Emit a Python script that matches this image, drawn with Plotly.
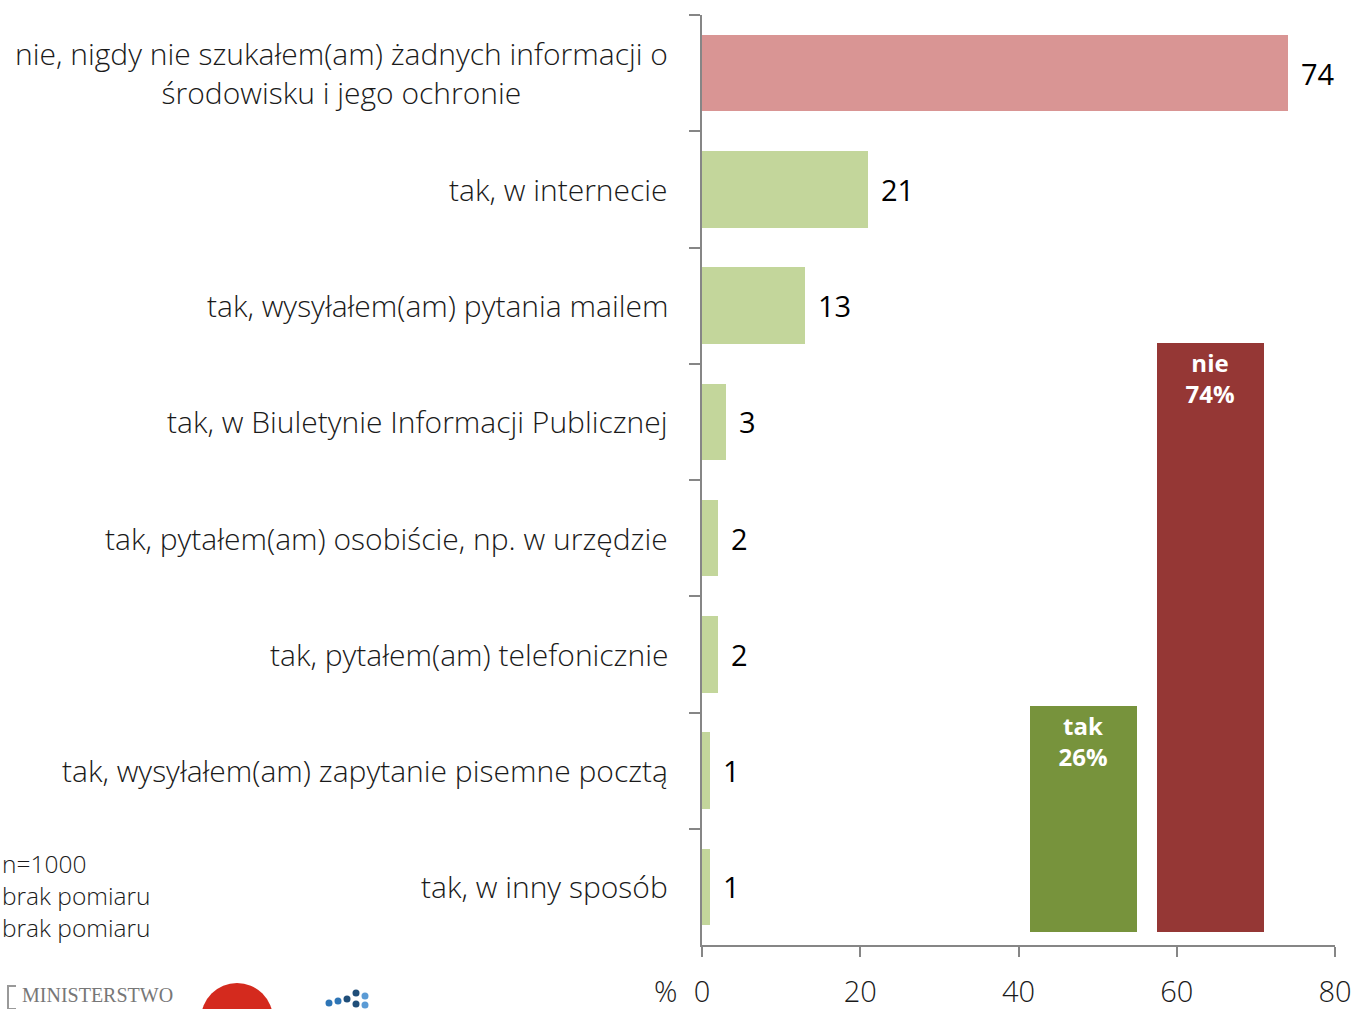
import plotly.graph_objects as go

categories = [
    "nie, nigdy nie szukałem(am) żadnych informacji o<br>środowisku i jego ochronie",
    "tak, w internecie",
    "tak, wysyłałem(am) pytania mailem",
    "tak, w Biuletynie Informacji Publicznej",
    "tak, pytałem(am) osobiście, np. w urzędzie",
    "tak, pytałem(am) telefonicznie",
    "tak, wysyłałem(am) zapytanie pisemne pocztą",
    "tak, w inny sposób",
]
values = [74, 21, 13, 3, 2, 2, 1, 1]
bar_colors = ["#D99594"] + ["#C3D69B"] * 7

summary_labels = ["tak", "nie"]
summary_values = [26, 74]
summary_colors = ["#77933C", "#953735"]

x_ticks = [0, 20, 40, 60, 80]
notes = ["n=1000", "brak pomiaru", "brak pomiaru"]

FONT = "Open Sans"
W, H = 1353, 1009
L, R, T, B = 702, 18, 15, 64
PW, PH = W - L - R, H - T - B
Y2MIN, Y2MAX = -3.9, 74  # inset axis range (axis does not start at 0)


def px(x):
    return (x - L) / PW


def py(y):
    return (H - B - y) / PH


fig = go.Figure()
fig.add_trace(go.Bar(
    y=categories, x=values, orientation="h",
    marker=dict(color=bar_colors, line=dict(width=0)),
    width=0.66, hoverinfo="skip", cliponaxis=False,
))
fig.add_trace(go.Bar(
    x=summary_labels, y=[v - Y2MIN for v in summary_values], base=Y2MIN,
    xaxis="x2", yaxis="y2",
    marker=dict(color=summary_colors, line=dict(width=0)),
    width=0.835,
    text=[f"<b>{l}<br>{v}%</b>" for l, v in zip(summary_labels, summary_values)],
    textposition="inside", insidetextanchor="end", textangle=0,
    textfont=dict(family=FONT, size=24, color="white"),
    hoverinfo="skip",
))

annotations = []
for c, v in zip(categories, values):
    annotations.append(dict(
        x=v, y=c, xref="x", yref="y", text=str(v), showarrow=False,
        xanchor="left", xshift=11,
        font=dict(family=FONT, size=29, color="#000000"),
    ))
    annotations.append(dict(
        x=0, y=c, xref="paper", yref="y", text=c, showarrow=False,
        xanchor="right", align="center", xshift=-32,
        font=dict(family=FONT, size=30, color="#1a1a1a", weight=300),
    ))
annotations.append(dict(
    x=px(679), y=py(990), xref="paper", yref="paper", text="%", showarrow=False,
    xanchor="right", yanchor="middle",
    font=dict(family=FONT, size=29, color="#1a1a1a", weight=300),
))
annotations.append(dict(
    x=px(0), y=py(845), xref="paper", yref="paper", text="<br>".join(notes),
    showarrow=False, xanchor="left", yanchor="top", align="left",
    font=dict(family=FONT, size=24.5, color="#1a1a1a", weight=300),
))
annotations.append(dict(
    x=px(20), y=py(982), xref="paper", yref="paper", text="MINISTERSTWO",
    showarrow=False, xanchor="left", yanchor="top",
    font=dict(family="Liberation Serif", size=20, color="#777777"),
))

shapes = [
    dict(type="circle", xref="paper", yref="paper",
         x0=px(201), x1=px(273), y0=py(1055), y1=py(983),
         fillcolor="#D42A1E", line=dict(width=0)),
    dict(type="path", xref="paper", yref="paper",
         path=f"M {px(16)} {py(1009)} L {px(8)} {py(1009)} L {px(8)} {py(986)} L {px(16)} {py(986)}",
         line=dict(color="#999999", width=2)),
]
for cx, cy, col in [(329, 1003, "#2E75B6"), (338, 1001, "#2E75B6"),
                    (347, 999, "#1F4E79"), (356, 993, "#1F4E79"),
                    (365, 996, "#5B9BD5"), (356, 1004, "#1F4E79"),
                    (365, 1005, "#5B9BD5")]:
    r = 3.5
    shapes.append(dict(type="circle", xref="paper", yref="paper",
                       x0=px(cx - r), x1=px(cx + r),
                       y0=py(cy + r), y1=py(cy - r),
                       fillcolor=col, line=dict(width=0)))

fig.update_layout(
    width=W, height=H,
    margin=dict(l=L, r=R, t=T, b=B, pad=0, autoexpand=False),
    paper_bgcolor="white", plot_bgcolor="white",
    showlegend=False, bargap=0,
    font=dict(family=FONT, color="#1a1a1a"),
    xaxis=dict(
        range=[0, 80], tickvals=x_ticks, showgrid=False, zeroline=False,
        showline=True, linecolor="#868686", linewidth=1.5,
        ticks="outside", ticklen=10, tickcolor="#868686", tickwidth=1.5,
        ticklabelstandoff=10, automargin=False,
        tickfont=dict(family=FONT, size=29, color="#1a1a1a", weight=300),
        fixedrange=True,
    ),
    yaxis=dict(
        type="category", categoryorder="array", categoryarray=categories,
        autorange="reversed", showgrid=False, zeroline=False,
        showline=True, linecolor="#868686", linewidth=1.5,
        ticks="outside", tickson="boundaries", ticklen=11,
        tickcolor="#868686", tickwidth=1.5, showticklabels=False,
        automargin=False, fixedrange=True,
    ),
    xaxis2=dict(
        domain=[px(1019.5), px(1273.5)],
        anchor="y2", range=[-0.5, 1.5], visible=False, fixedrange=True,
    ),
    yaxis2=dict(
        domain=[py(932), py(343)],
        anchor="x2", range=[Y2MIN, Y2MAX], visible=False, fixedrange=True,
    ),
    annotations=annotations,
    shapes=shapes,
)

fig.write_html(
    "out.html",
    config={"displayModeBar": False},
    post_script="document.body.style.margin='0';document.body.style.overflow='hidden';",
)
